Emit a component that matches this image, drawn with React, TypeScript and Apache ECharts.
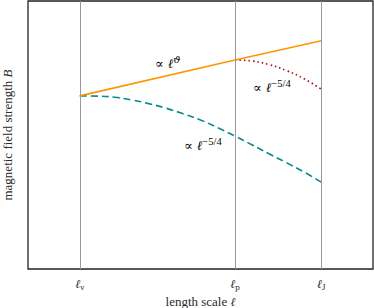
import React, { useEffect, useRef } from "react";
import * as echarts from "echarts";

// x: log length scale (arbitrary units), y: log field strength (arbitrary units)
const scaleNames = ["ν", "p", "J"];
const scalePositions = [1.5, 6, 8.5];

const orangeData: [number, number][] = [
  [1.5, 6.46],
  [6, 7.8],
  [8.5, 8.52],
];

const tealData: [number, number][] = [
  [1.5, 6.46],
  [2, 6.45],
  [2.5, 6.41],
  [3, 6.31],
  [3.5, 6.17],
  [4, 6.0],
  [4.5, 5.79],
  [5, 5.56],
  [5.5, 5.27],
  [6, 4.96],
  [6.5, 4.63],
  [7, 4.29],
  [7.5, 3.96],
  [8, 3.62],
  [8.5, 3.24],
];

const redData: [number, number][] = [
  [6, 7.8],
  [6.5, 7.76],
  [7, 7.62],
  [7.5, 7.4],
  [8, 7.1],
  [8.5, 6.71],
];

const FONT = "Liberation Serif";
const SYM = "DejaVu Serif";
const INK = "#2a2a2a";

const annoRich = {
  a: { fontFamily: SYM, fontSize: 13, color: INK },
  l: { fontFamily: SYM, fontSize: 13, fontStyle: "italic", color: INK },
  s: { fontFamily: FONT, fontSize: 10.5, color: INK, padding: [0, 0, 8, 0] },
  si: { fontFamily: SYM, fontSize: 10, fontStyle: "italic", color: INK, padding: [0, 0, 8, 0] },
};

export default function App() {
  const ref = useRef<HTMLDivElement>(null);
  useEffect(() => {
    if (!ref.current) return;
    const chart = echarts.init(ref.current, undefined, { renderer: "svg" });
    const labelFor = (v: number) => {
      const i = scalePositions.findIndex((p) => Math.abs(p - v) < 1e-6);
      return i < 0 ? "" : `{l|ℓ}{s|${scaleNames[i]}}`;
    };
    const tickCommon = {
      show: true,
      inside: true,
      length: 4,
      customValues: scalePositions,
      lineStyle: { color: "#555", width: 1 },
    };
    chart.setOption({
      animation: false,
      textStyle: { fontFamily: FONT },
      grid: {
        left: 28,
        right: 1,
        top: 1,
        bottom: 39,
        outerBoundsMode: "none",
        containLabel: false,
        show: true,
        borderColor: "#222",
        borderWidth: 1.3,
      },
      xAxis: [
        {
          type: "value",
          min: 0,
          max: 10,
          name: "{t|length scale }{l|ℓ}",
          nameLocation: "middle",
          nameGap: 26,
          nameMoveOverlap: false,
          nameTextStyle: {
            verticalAlign: "top",
            lineHeight: 13,
            rich: {
              t: { fontFamily: FONT, fontSize: 13, lineHeight: 13, color: INK },
              l: { fontFamily: SYM, fontSize: 12, lineHeight: 13, fontStyle: "italic", color: INK },
            },
          },
          axisLine: { show: false },
          axisTick: tickCommon,
          splitLine: { show: false },
          axisLabel: {
            customValues: scalePositions,
            margin: 8,
            formatter: labelFor,
            rich: {
              l: { fontFamily: SYM, fontSize: 12, fontStyle: "italic", color: INK },
              s: { fontFamily: FONT, fontSize: 9, color: INK, padding: [5, 0, 0, 0] },
            },
          },
        },
        {
          type: "value",
          position: "top",
          min: 0,
          max: 10,
          axisLine: { show: false },
          axisTick: tickCommon,
          splitLine: { show: false },
          axisLabel: { show: false },
        },
      ],
      yAxis: {
        type: "value",
        min: 0,
        max: 10,
        name: "{t|magnetic field strength }{b|B}",
        nameLocation: "middle",
        nameGap: 14,
        nameMoveOverlap: false,
        nameTextStyle: {
          rich: {
            t: { fontFamily: FONT, fontSize: 13, color: INK },
            b: { fontFamily: FONT, fontSize: 13, fontStyle: "italic", color: INK },
          },
        },
        axisLine: { show: false },
        axisTick: { show: false },
        axisLabel: { show: false },
        splitLine: { show: false },
      },
      series: [
        {
          type: "line",
          data: [],
          z: 1,
          silent: true,
          markLine: {
            silent: true,
            symbol: "none",
            label: { show: false },
            lineStyle: { color: "#9a9a9a", width: 1, type: "solid" },
            data: scalePositions.map((v) => ({ xAxis: v })),
          },
        },
        {
          type: "line",
          data: tealData,
          smooth: true,
          symbol: "none",
          z: 3,
          lineStyle: { color: "#0b8a8a", width: 1.6, type: [7, 4] },
        },
        {
          type: "line",
          data: redData,
          smooth: true,
          symbol: "none",
          z: 3,
          lineStyle: { color: "#a3141c", width: 1.7, type: [1.5, 3] },
        },
        {
          type: "line",
          data: orangeData,
          symbol: "none",
          z: 4,
          lineStyle: { color: "#ff9500", width: 1.6 },
        },
      ],
      graphic: [
        {
          type: "text",
          left: 155,
          top: 54,
          style: { text: "{a|∝ }{l|ℓ}{si|ϑ}", rich: annoRich },
        },
        {
          type: "text",
          left: 253,
          top: 78,
          style: { text: "{a|∝ }{l|ℓ}{s|−5/4}", rich: annoRich },
        },
        {
          type: "text",
          left: 184,
          top: 136,
          style: { text: "{a|∝ }{l|ℓ}{s|−5/4}", rich: annoRich },
        },
      ],
    });
    return () => chart.dispose();
  }, []);
  return (
    <div
      ref={ref}
      style={{ position: "absolute", left: 0, top: 0, width: 374, height: 308 }}
    />
  );
}
